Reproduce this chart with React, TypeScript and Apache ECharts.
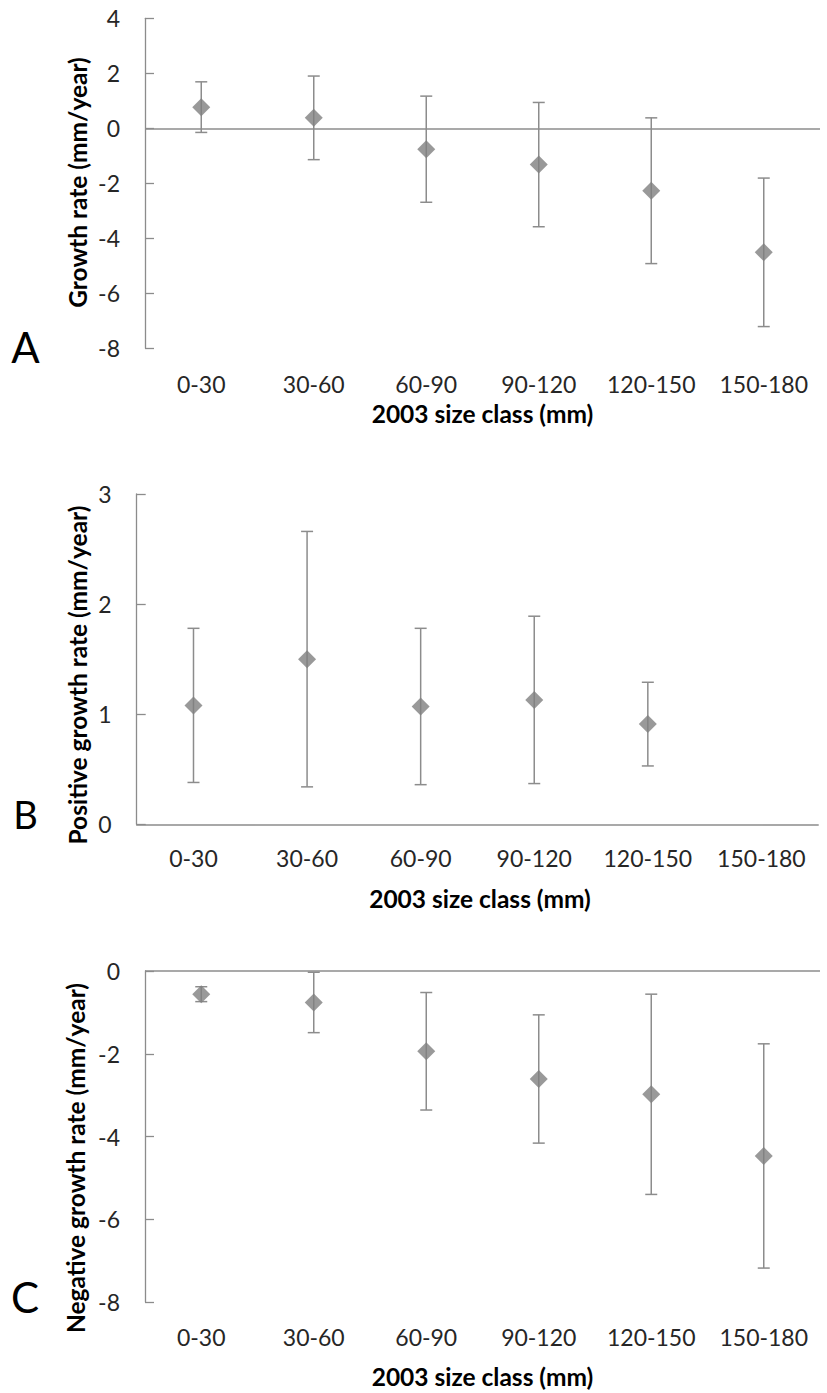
import React, { useEffect, useRef } from "react";
import * as echarts from "echarts";

const categories = ["0-30", "30-60", "60-90", "90-120", "120-150", "150-180"];

// Panel A: overall growth rate (mm/year), mean and error
const growthMean = [0.77, 0.38, -0.76, -1.32, -2.27, -4.51];
const growthErr = [0.92, 1.52, 1.93, 2.26, 2.65, 2.7];

// Panel B: positive growth rate
const posMean: (number | null)[] = [1.08, 1.5, 1.07, 1.13, 0.91, null];
const posErr: (number | null)[] = [0.7, 1.16, 0.71, 0.76, 0.38, null];

// Panel C: negative growth rate
const negMean = [-0.56, -0.76, -1.94, -2.61, -2.98, -4.47];
const negErr = [0.18, 0.73, 1.42, 1.55, 2.42, 2.71];

const yTitles = ["Growth rate (mm/year)", "Positive growth rate (mm/year)", "Negative growth rate (mm/year)"];
const xTitle = "2003 size class (mm)";
const panelLetters = ["A", "B", "C"];

const FONT = "Lato, 'Open Sans', sans-serif";
const LINE = "#8c8c8c";
const MARK = "#7f7f7f";
const TEXT = "#262626";

export default function App() {
  const ref = useRef<HTMLDivElement>(null);
  useEffect(() => {
    if (!ref.current) return;
    const chart = echarts.init(ref.current, null, { renderer: "svg" });

    const grids = [
      { left: 145, top: 18.3, width: 675, height: 330 },
      { left: 136.7, top: 494, width: 681.5, height: 330.3 },
      { left: 145, top: 971, width: 675, height: 331 },
    ];
    const yRanges = [
      { min: -8, max: 4, interval: 2 },
      { min: 0, max: 3, interval: 1 },
      { min: -8, max: 0, interval: 2 },
    ];
    const labelMargins = [24, 22, 23];
    const means: (number | null)[][] = [growthMean, posMean, negMean];
    const errs: (number | null)[][] = [growthErr, posErr, negErr];

    const renderErr = (params: any, api: any) => {
      const x = api.value(0);
      const lo = api.value(1);
      const hi = api.value(2);
      const t = api.coord([x, hi]);
      const b = api.coord([x, lo]);
      const hw = 6;
      const style = { stroke: LINE, lineWidth: 1.5 };
      return {
        type: "group",
        children: [
          { type: "line", shape: { x1: t[0], y1: t[1], x2: b[0], y2: b[1] }, style },
          { type: "line", shape: { x1: t[0] - hw, y1: t[1], x2: t[0] + hw, y2: t[1] }, style },
          { type: "line", shape: { x1: b[0] - hw, y1: b[1], x2: b[0] + hw, y2: b[1] }, style },
        ],
      };
    };

    const series: any[] = [];
    means.forEach((m, p) => {
      const e = errs[p];
      const errData = m
        .map((v, i) => (v == null || e[i] == null ? null : [i, v - (e[i] as number), v + (e[i] as number)]))
        .filter((d) => d !== null);
      series.push({
        type: "custom",
        xAxisIndex: p,
        yAxisIndex: p,
        renderItem: renderErr,
        encode: { x: 0, y: [1, 2] },
        data: errData,
        z: 2,
        silent: true,
      });
      const sc: any = {
        type: "scatter",
        xAxisIndex: p,
        yAxisIndex: p,
        symbol: "diamond",
        symbolSize: 18,
        itemStyle: { color: MARK },
        data: m.map((v) => (v == null ? "-" : v)),
        z: 3,
      };
      if (p !== 1) {
        sc.markLine = {
          silent: true,
          symbol: ["none", "none"],
          label: { show: false },
          lineStyle: { color: LINE, width: 1.5, type: "solid" },
          data: [{ yAxis: 0 }],
          z: 1,
        };
      }
      series.push(sc);
    });

    const graphic: any[] = [];
    const yTitlePos = [
      [77, 182.5],
      [77, 675],
      [75.5, 1158],
    ];
    const xTitlePos = [
      [482.5, 413.3],
      [480, 898],
      [482.5, 1376.7],
    ];
    const letterPos = [
      [25.5, 347, 42],
      [25.5, 814, 38],
      [25, 1296.7, 42],
    ];
    for (let p = 0; p < 3; p++) {
      graphic.push({
        type: "text",
        x: yTitlePos[p][0],
        y: yTitlePos[p][1],
        rotation: Math.PI / 2,
        style: {
          text: yTitles[p],
          fontFamily: FONT,
          fontWeight: "bold",
          fontSize: 24.5,
          fill: "#000",
          align: "center",
          verticalAlign: "middle",
        },
      });
      graphic.push({
        type: "text",
        x: xTitlePos[p][0],
        y: xTitlePos[p][1],
        style: {
          text: xTitle,
          fontFamily: FONT,
          fontWeight: "bold",
          fontSize: 24.5,
          fill: "#000",
          align: "center",
          verticalAlign: "middle",
        },
      });
      graphic.push({
        type: "text",
        x: letterPos[p][0],
        y: letterPos[p][1],
        style: {
          text: panelLetters[p],
          fontFamily: FONT,
          fontSize: letterPos[p][2],
          fill: "#000",
          align: "center",
          verticalAlign: "middle",
        },
      });
    }

    chart.setOption({
      animation: false,
      backgroundColor: "#ffffff",
      grid: grids.map((g) => ({ ...g, containLabel: false })),
      xAxis: grids.map((_, p) => ({
        type: "category",
        gridIndex: p,
        data: categories,
        boundaryGap: true,
        position: "bottom",
        axisLine: { show: p === 1, onZero: false, lineStyle: { color: LINE, width: 1.5 } },
        axisTick: { show: false },
        splitLine: { show: false },
        axisLabel: {
          margin: labelMargins[p],
          fontFamily: FONT,
          fontSize: 23,
          color: TEXT,
          interval: 0,
        },
      })),
      yAxis: grids.map((_, p) => ({
        type: "value",
        gridIndex: p,
        min: yRanges[p].min,
        max: yRanges[p].max,
        interval: yRanges[p].interval,
        axisLine: { show: true, lineStyle: { color: LINE, width: 1.3 } },
        axisTick: { show: true, inside: true, length: 9, lineStyle: { color: LINE, width: 1.3 } },
        splitLine: { show: false },
        axisLabel: {
          margin: 25,
          fontFamily: FONT,
          fontSize: 23,
          color: TEXT,
        },
      })),
      series,
      graphic,
    });

    return () => chart.dispose();
  }, []);

  return (
    <div
      ref={ref}
      style={{ position: "absolute", left: 0, top: 0, width: 827, height: 1393, background: "#fff" }}
    />
  );
}
